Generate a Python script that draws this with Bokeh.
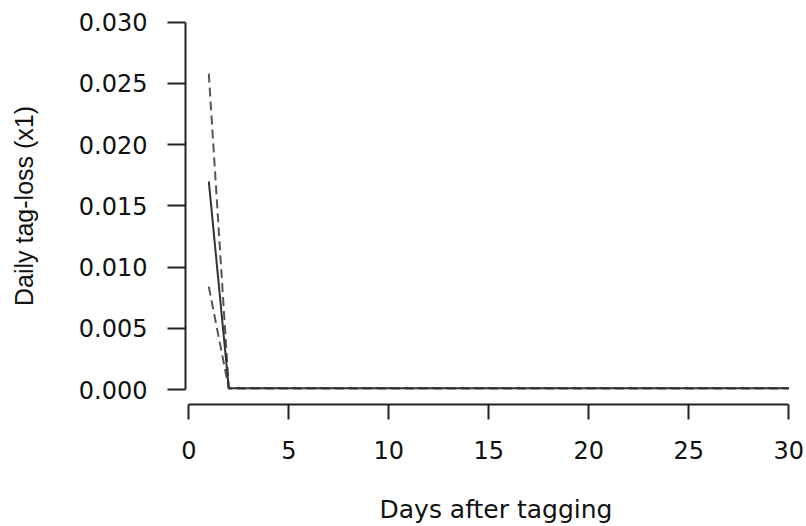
from bokeh.plotting import figure
from bokeh.models import FixedTicker, NumeralTickFormatter, Range1d, ColumnDataSource
from bokeh.embed import file_html
from bokeh.resources import INLINE

# ---- data ----
days = [1, 2, 3, 4, 5, 6, 7, 8, 9, 10, 11, 12, 13, 14, 15,
        16, 17, 18, 19, 20, 21, 22, 23, 24, 25, 26, 27, 28, 29, 30]
estimate = [0.0170, 0.0001, 0.0001, 0.0001, 0.0001, 0.0001, 0.0001, 0.0001, 0.0001, 0.0001,
            0.0001, 0.0001, 0.0001, 0.0001, 0.0001, 0.0001, 0.0001, 0.0001, 0.0001, 0.0001,
            0.0001, 0.0001, 0.0001, 0.0001, 0.0001, 0.0001, 0.0001, 0.0001, 0.0001, 0.0001]
upper = [0.0258, 0.00012, 0.00012, 0.00012, 0.00012, 0.00012, 0.00012, 0.00012, 0.00012, 0.00012,
         0.00012, 0.00012, 0.00012, 0.00012, 0.00012, 0.00012, 0.00012, 0.00012, 0.00012, 0.00012,
         0.00012, 0.00012, 0.00012, 0.00012, 0.00012, 0.00012, 0.00012, 0.00012, 0.00012, 0.00012]
lower = [0.0084, 0.00008, 0.00008, 0.00008, 0.00008, 0.00008, 0.00008, 0.00008, 0.00008, 0.00008,
         0.00008, 0.00008, 0.00008, 0.00008, 0.00008, 0.00008, 0.00008, 0.00008, 0.00008, 0.00008,
         0.00008, 0.00008, 0.00008, 0.00008, 0.00008, 0.00008, 0.00008, 0.00008, 0.00008, 0.00008]
x_ticks = [0, 5, 10, 15, 20, 25, 30]
y_ticks = [0.000, 0.005, 0.010, 0.015, 0.020, 0.025, 0.030]
x_title = "Days after tagging"
y_title = "Daily tag-loss (x1)"

src = ColumnDataSource(dict(day=days, est=estimate, up=upper, lo=lower))

p = figure(width=806, height=526, output_backend="svg", toolbar_location=None,
           x_range=Range1d(-0.165, 30.885), y_range=Range1d(-0.001222, 0.031197),
           min_border_left=185, min_border_bottom=121, min_border_top=7, min_border_right=0)
p.outline_line_color = None
p.xgrid.visible = False
p.ygrid.visible = False
p.background_fill_color = "white"
p.border_fill_color = "white"

p.line("day", "up", source=src, line_color="#555555", line_width=2, line_dash="9 5")
p.line("day", "lo", source=src, line_color="#555555", line_width=2, line_dash="9 5")
p.line("day", "est", source=src, line_color="#333333", line_width=2)

TICK_FONT = "DejaVu Sans"

xa = p.xaxis[0]
xa.ticker = FixedTicker(ticks=x_ticks)
xa.bounds = (x_ticks[0], x_ticks[-1])
xa.minor_tick_line_color = None
xa.major_tick_in = 0
xa.major_tick_out = 15
xa.axis_line_width = 2
xa.major_tick_line_width = 2
xa.axis_line_color = "#222222"
xa.major_tick_line_color = "#222222"
xa.major_label_text_font = TICK_FONT
xa.major_label_text_font_size = "24px"
xa.major_label_text_color = "#111111"
xa.major_label_standoff = 21
xa.axis_label = x_title
xa.axis_label_text_font = TICK_FONT
xa.axis_label_text_font_size = "25px"
xa.axis_label_text_font_style = "normal"
xa.axis_label_text_color = "#111111"
xa.axis_label_standoff = 33

ya = p.yaxis[0]
ya.ticker = FixedTicker(ticks=y_ticks)
ya.bounds = (y_ticks[0], y_ticks[-1])
ya.formatter = NumeralTickFormatter(format="0.000")
ya.minor_tick_line_color = None
ya.major_tick_in = 0
ya.major_tick_out = 18
ya.axis_line_width = 2
ya.major_tick_line_width = 2
ya.axis_line_color = "#222222"
ya.major_tick_line_color = "#222222"
ya.major_label_text_font = TICK_FONT
ya.major_label_text_font_size = "24px"
ya.major_label_text_color = "#111111"
ya.major_label_standoff = 20
ya.axis_label = y_title
ya.axis_label_text_font = "Liberation Sans"
ya.axis_label_text_font_size = "25px"
ya.axis_label_text_font_style = "normal"
ya.axis_label_text_color = "#111111"
ya.axis_label_standoff = 38

open("out.html", "w").write(file_html(p, INLINE))
